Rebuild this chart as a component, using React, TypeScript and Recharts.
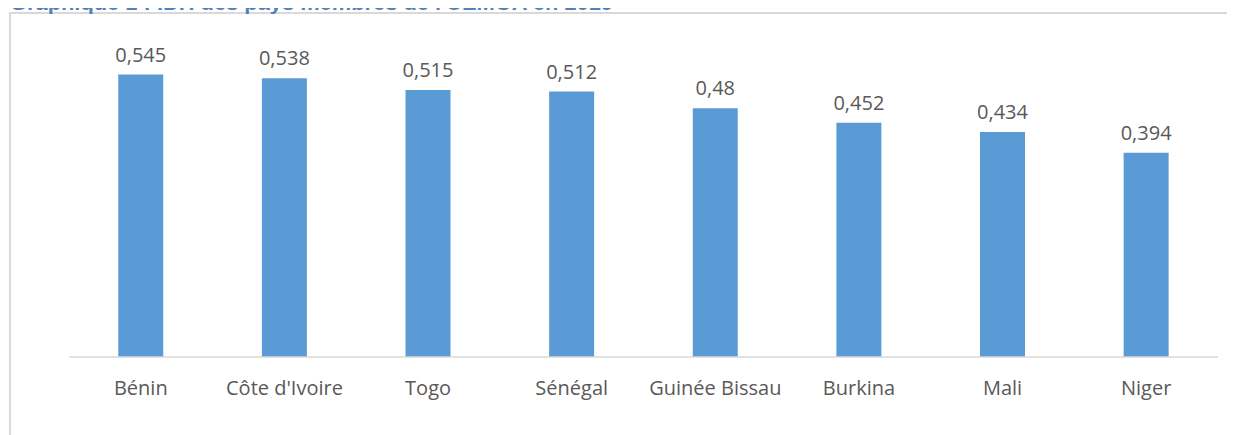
import { BarChart, Bar, XAxis, YAxis, LabelList } from "recharts";

const countries = [
  "Bénin",
  "Côte d'Ivoire",
  "Togo",
  "Sénégal",
  "Guinée Bissau",
  "Burkina",
  "Mali",
  "Niger",
];
const idh = [0.545, 0.538, 0.515, 0.512, 0.48, 0.452, 0.434, 0.394];

const data = countries.map((name, i) => ({ name, idh: idh[i] }));

const fmt = (v: number) => String(v).replace(".", ",");

export default function App() {
  return (
    <div
      style={{
        position: "relative",
        width: 1235,
        height: 435,
        margin: "-8px 0 0 -8px",
        overflow: "hidden",
        background: "#fff",
      }}
    >
      <div
        style={{
          position: "absolute",
          left: 9,
          top: 12,
          width: 1260,
          height: 460,
          border: "2px solid #d9d9d9",
        }}
      />
      <svg
        width={1235}
        height={30}
        style={{ position: "absolute", left: 0, top: 0 }}
      >
        <text
          x={10}
          y={9.5}
          fill="#4f81bd"
          fontFamily="Liberation Sans, Arial, sans-serif"
          fontWeight="bold"
          fontSize={21}
          textLength={603}
          lengthAdjust="spacingAndGlyphs"
        >
          Graphique 1 : IDH des pays membres de l'UEMOA en 2019
        </text>
      </svg>
      <div style={{ position: "absolute", left: 0, top: 0 }}>
        <BarChart
          width={1235}
          height={435}
          data={data}
          margin={{ top: 46, right: 17, bottom: 48, left: 69 }}
          barCategoryGap="34.3%"
        >
          <XAxis
            dataKey="name"
            stroke="#d9d9d9"
            strokeWidth={1.5}
            tickLine={false}
            tickSize={0}
            tickMargin={24}
            tick={{ fill: "#595959", fontSize: 20, fontFamily: "Open Sans" }}
          />
          <YAxis hide domain={[0, 0.6]} />
          <Bar dataKey="idh" fill="#5b9bd5" isAnimationActive={false}>
            <LabelList
              dataKey="idh"
              position="top"
              offset={13}
              formatter={(v: any) => fmt(v as number)}
              style={{ fill: "#595959", fontSize: 20, fontFamily: "Open Sans" }}
            />
          </Bar>
        </BarChart>
      </div>
    </div>
  );
}
